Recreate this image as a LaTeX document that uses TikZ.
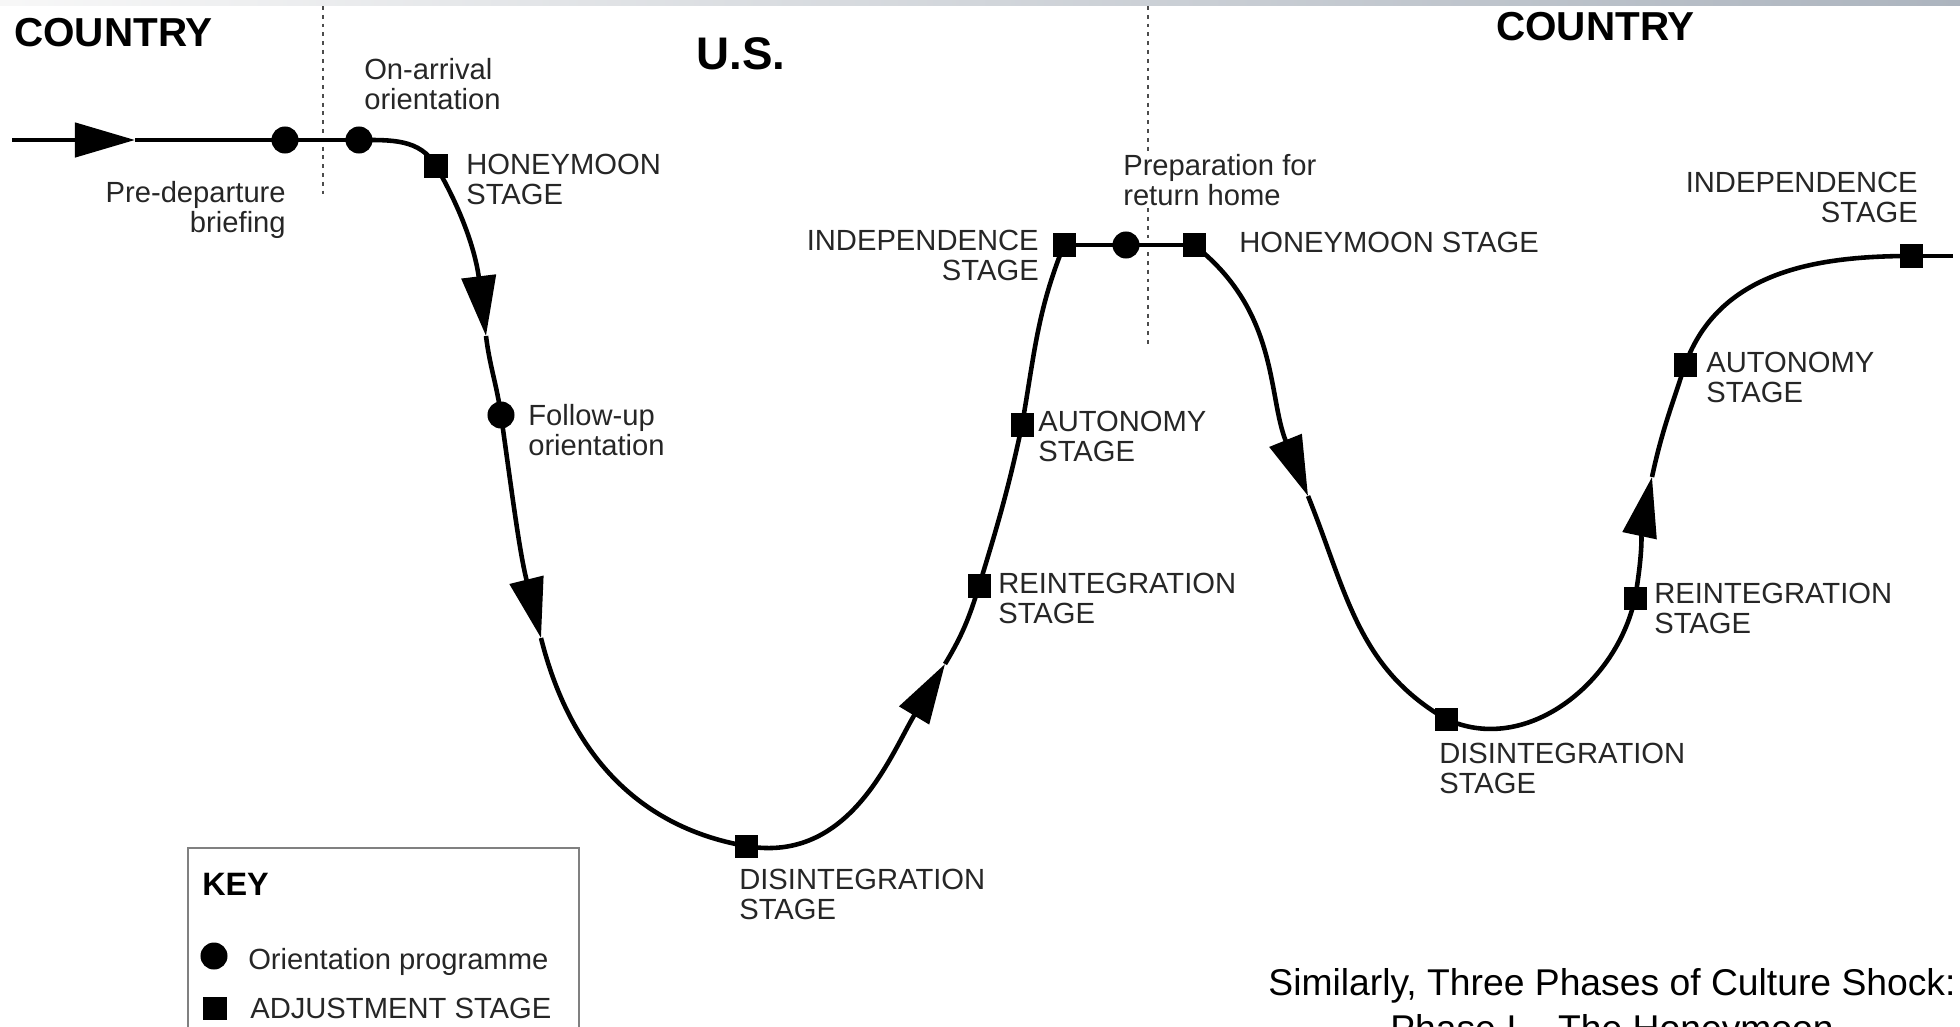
\documentclass[tikz,border=0pt]{standalone}
\usepackage{fontspec}
\setmainfont{Liberation Sans}
\usetikzlibrary{arrows.meta}
\usetikzlibrary{positioning}
\definecolor{bandgray}{RGB}{172,180,190}
\tikzset{flow/.style = {-{Triangle[length=0.6cm, width=0.34cm]}}}
\tikzset{dot/.style = {fill, circle, inner sep = 0, minimum size = 0.27cm}}
\tikzset{sq/.style = {fill, rectangle, inner sep = 0, minimum size = 0.23cm}}
\tikzset{lbl/.style = {inner sep = 0, align = left, text = black!85,
                       font = \fontsize{8.3}{8.5}\selectfont}}
\tikzset{head/.style = {inner sep = 0, anchor = north west,
                        font = \bfseries\fontsize{11.5}{12}\selectfont}}
\tikzset{border/.style = {dash pattern = on 1.1pt off 1.4pt, line width = 0.7pt, gray!60!black}}

\begin{document}
\begin{tikzpicture}[x=0.01cm, y=0.01cm, line width=1.3pt]
      \useasboundingbox (0, 0) rectangle (1960, 1026);
      \shade [left color = gray!6, right color = bandgray] (0, 1021) rectangle (1960, 1026);

      % borders between the countries
      \draw [border] (323, 1020) -- (323, 832);
      \draw [border] (1148, 1020) -- (1148, 682);

      \node [head] (homeleft) at (12, 1010) {COUNTRY};
      \node [head, font = \bfseries\fontsize{13}{14}\selectfont] (host) at (694, 991) {U.S.};
      \node [head] (homeright) at (1494, 1016) {COUNTRY};

      % stages on the curve
      \coordinate (start) at (12, 886);
      \node [dot] (pre) at (285, 886) {};
      \node [dot] (arr) at (359, 886) {};
      \node [sq] (hm1) at (436, 860) {};
      \node [dot] (fol) at (501, 611) {};
      \node [sq] (dis1) at (746, 180) {};
      \node [sq] (rei1) at (979, 440) {};
      \node [sq] (aut1) at (1022, 601) {};
      \node [sq] (ind1) at (1064, 781) {};
      \node [dot] (prep) at (1126, 781) {};
      \node [sq] (hm2) at (1194, 781) {};
      \node [sq] (dis2) at (1446, 307) {};
      \node [sq] (rei2) at (1635, 428) {};
      \node [sq] (aut2) at (1685, 661) {};
      \node [sq] (ind2) at (1911, 770) {};
      \coordinate (end) at (1953, 770);

      % arrow heads
      \coordinate (t1) at (135, 886);
      \coordinate (t2) at (486, 690);
      \coordinate (t3) at (541, 388);
      \coordinate (t4) at (945, 362);
      \coordinate (t5) at (1308, 530);
      \coordinate (t6) at (1652, 549);

      \draw [flow] (start) -- (t1);
      \draw (t1) -- (arr.center);
      \draw (arr.center) to [out=0, in=120] (hm1.center);
      \draw [flow] (hm1.center) to [out=-60, in=97] (t2);
      \draw (t2) to [out=-83, in=98] (fol.center);
      \draw [flow] (fol.center) to [out=-82, in=104] (t3);
      \draw (t3) to [out=-76, in=170] (dis1.center);
      \draw [flow] (dis1.center) to [out=-10, in=-121] (t4);
      \draw (t4) to [out=59, in=-107] (rei1.center);
      \draw (rei1.center) to [out=73, in=-102] (aut1.center);
      \draw (aut1.center) to [out=80, in=-112] (ind1.center);
      \draw (ind1.center) -- (hm2.center);
      \draw [flow] (hm2.center) to [out=-38, in=112] (t5);
      \draw (t5) to [out=-68, in=150] (dis2.center);
      \draw (dis2.center) to [out=-25, in=-102] (rei2.center);
      \draw [flow] (rei2.center) to [out=80, in=-102] (t6);
      \draw (t6) to [out=78, in=-108] (aut2.center);
      \draw (aut2.center) to [out=70, in=180] (ind2.center);
      \draw (ind2.center) -- (end);

      \node [lbl, anchor = north west] (arrlbl) at (362, 970) {On-arrival\\orientation};
      \node [lbl, anchor = north east, align = right] (prelbl) at (288, 847) {Pre-departure\\briefing};
      \node [lbl, anchor = north west] (hm1lbl) at (464, 874) {HONEYMOON\\STAGE};
      \node [lbl, anchor = north west] (follbl) at (526, 624) {Follow-up\\orientation};
      \node [lbl, anchor = north east, align = right] (ind1lbl) at (1041, 798) {INDEPENDENCE\\STAGE};
      \node [lbl, anchor = north west, fill = white] (preplbl) at (1121, 874) {Preparation for\\return home};
      \node [lbl, anchor = north west] (hm2lbl) at (1237, 796) {HONEYMOON STAGE};
      \node [lbl, anchor = north west] (aut1lbl) at (1036, 617) {AUTONOMY\\STAGE};
      \node [lbl, anchor = north west] (rei1lbl) at (996, 455) {REINTEGRATION\\STAGE};
      \node [lbl, anchor = north west] (dis1lbl) at (737, 159) {DISINTEGRATION\\STAGE};
      \node [lbl, anchor = north east, align = right] (ind2lbl) at (1920, 856) {INDEPENDENCE\\STAGE};
      \node [lbl, anchor = north west] (aut2lbl) at (1704, 676) {AUTONOMY\\STAGE};
      \node [lbl, anchor = north west] (rei2lbl) at (1652, 445) {REINTEGRATION\\STAGE};
      \node [lbl, anchor = north west] (dis2lbl) at (1437, 285) {DISINTEGRATION\\STAGE};

      % key
      \draw [line width = 0.8pt, gray] (188, 178) rectangle (579, -20);
      \node [head, font = \bfseries\fontsize{9.2}{10}\selectfont] (key) at (200, 155) {KEY};
      \node [dot] (keydot) at (214, 70) {};
      \node [lbl, anchor = north west] (keydotlbl) at (246, 80) {Orientation programme};
      \node [sq] (keysq) at (215, 18) {};
      \node [lbl, anchor = north west] (keysqlbl) at (248, 30) {ADJUSTMENT STAGE};

      \node [inner sep = 0, anchor = north, align = center,
             font = \fontsize{10.6}{13}\selectfont] (caption) at (1612, 60)
            {Similarly, Three Phases of Culture Shock:\\Phase I – The Honeymoon};
    \end{tikzpicture}
\end{document}
